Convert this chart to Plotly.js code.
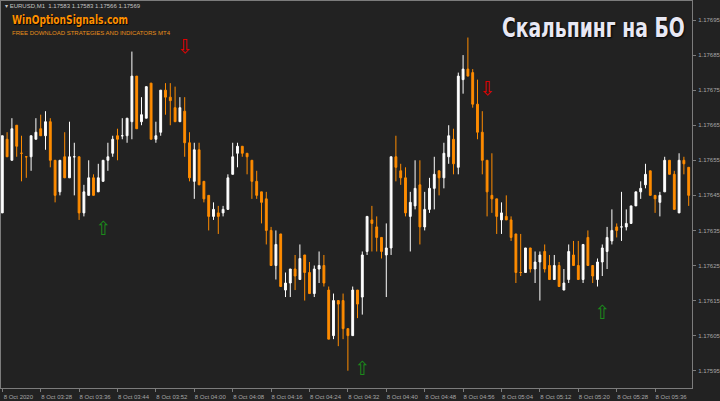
<!DOCTYPE html>
<html>
<head>
<meta charset="utf-8">
<script src="https://cdn.plot.ly/plotly-3.0.1.min.js"></script>
<style>
html,body{margin:0;padding:0;background:#222222;}
#chart{width:720px;height:401px;}
</style>
</head>
<body>
<div id="chart"></div>
<script>
// EURUSD M1, 8 Oct 2020, bars from 03:20 (one per minute)
const barIndex = [];
for (let i = 0; i < 144; i++) barIndex.push(i);

const open = [
1.17640,1.17661,1.17655,1.17665,1.17657,1.17656,1.17656,1.17661,1.17664,1.17662,
1.17666,1.17655,1.17646,1.17656,1.17650,1.17656,1.17656,1.17640,1.17645,1.17650,
1.17646,1.17649,1.17655,1.17657,1.17662,1.17662,1.17662,1.17666,1.17679,1.17666,
1.17667,1.17677,1.17661,1.17663,1.17675,1.17673,1.17670,1.17666,1.17669,1.17660,
1.17649,1.17658,1.17649,1.17645,1.17639,1.17640,1.17640,1.17641,1.17651,1.17657,
1.17659,1.17657,1.17655,1.17649,1.17646,1.17644,1.17635,1.17625,1.17634,1.17618,
1.17620,1.17624,1.17621,1.17628,1.17623,1.17617,1.17624,1.17625,1.17618,1.17605,
1.17615,1.17615,1.17607,1.17605,1.17618,1.17616,1.17629,1.17638,1.17636,1.17633,
1.17628,1.17630,1.17656,1.17652,1.17650,1.17639,1.17642,1.17648,1.17636,1.17641,
1.17647,1.17652,1.17650,1.17656,1.17661,1.17653,1.17678,1.17681,1.17680,1.17671,
1.17663,1.17655,1.17645,1.17644,1.17638,1.17639,1.17638,1.17634,1.17623,1.17623,
1.17630,1.17624,1.17626,1.17629,1.17625,1.17621,1.17625,1.17618,1.17621,1.17628,
1.17625,1.17621,1.17633,1.17625,1.17621,1.17626,1.17629,1.17632,1.17636,1.17636,
1.17636,1.17637,1.17642,1.17646,1.17648,1.17652,1.17645,1.17643,1.17646,1.17655,
1.17651,1.17640,1.17655,1.17653];
const high = [
1.17662,1.17663,1.17667,1.17665,1.17662,1.17656,1.17662,1.17667,1.17668,1.17669,
1.17667,1.17655,1.17655,1.17663,1.17666,1.17660,1.17656,1.17648,1.17655,1.17651,
1.17654,1.17655,1.17660,1.17662,1.17664,1.17667,1.17667,1.17686,1.17679,1.17673,
1.17676,1.17677,1.17666,1.17675,1.17677,1.17677,1.17676,1.17673,1.17673,1.17663,
1.17660,1.17660,1.17649,1.17645,1.17643,1.17642,1.17642,1.17651,1.17660,1.17660,
1.17659,1.17657,1.17655,1.17652,1.17646,1.17646,1.17636,1.17635,1.17634,1.17623,
1.17624,1.17628,1.17631,1.17628,1.17626,1.17625,1.17629,1.17628,1.17619,1.17617,
1.17615,1.17617,1.17607,1.17619,1.17618,1.17629,1.17639,1.17642,1.17639,1.17633,
1.17637,1.17656,1.17662,1.17654,1.17653,1.17646,1.17655,1.17655,1.17646,1.17650,
1.17656,1.17652,1.17660,1.17665,1.17664,1.17680,1.17685,1.17690,1.17681,1.17678,
1.17669,1.17655,1.17657,1.17644,1.17643,1.17645,1.17639,1.17634,1.17634,1.17630,
1.17630,1.17629,1.17629,1.17631,1.17628,1.17628,1.17626,1.17624,1.17631,1.17632,
1.17632,1.17631,1.17635,1.17625,1.17627,1.17631,1.17636,1.17641,1.17637,1.17646,
1.17641,1.17642,1.17646,1.17649,1.17654,1.17652,1.17645,1.17646,1.17656,1.17655,
1.17652,1.17657,1.17656,1.17653];
const low = [
1.17640,1.17656,1.17655,1.17656,1.17649,1.17650,1.17652,1.17661,1.17662,1.17658,
1.17653,1.17643,1.17645,1.17650,1.17650,1.17645,1.17638,1.17639,1.17645,1.17645,
1.17646,1.17649,1.17652,1.17656,1.17655,1.17661,1.17660,1.17661,1.17664,1.17665,
1.17667,1.17661,1.17660,1.17662,1.17668,1.17665,1.17666,1.17666,1.17656,1.17649,
1.17644,1.17648,1.17643,1.17635,1.17638,1.17634,1.17639,1.17641,1.17651,1.17653,
1.17656,1.17651,1.17644,1.17644,1.17637,1.17631,1.17625,1.17621,1.17619,1.17616,
1.17616,1.17618,1.17621,1.17615,1.17617,1.17616,1.17620,1.17619,1.17604,1.17604,
1.17602,1.17604,1.17595,1.17605,1.17610,1.17611,1.17628,1.17629,1.17629,1.17627,
1.17616,1.17628,1.17649,1.17648,1.17639,1.17629,1.17641,1.17631,1.17635,1.17640,
1.17641,1.17645,1.17647,1.17654,1.17651,1.17651,1.17674,1.17679,1.17670,1.17661,
1.17651,1.17639,1.17640,1.17634,1.17634,1.17638,1.17632,1.17620,1.17622,1.17623,
1.17623,1.17620,1.17615,1.17623,1.17621,1.17621,1.17619,1.17618,1.17620,1.17625,
1.17621,1.17620,1.17625,1.17620,1.17619,1.17622,1.17624,1.17631,1.17633,1.17632,
1.17635,1.17637,1.17642,1.17644,1.17647,1.17645,1.17640,1.17639,1.17646,1.17651,
1.17641,1.17640,1.17651,1.17642];
const close = [
1.17662,1.17656,1.17664,1.17659,1.17657,1.17656,1.17662,1.17663,1.17662,1.17666,
1.17655,1.17645,1.17655,1.17650,1.17656,1.17656,1.17640,1.17646,1.17650,1.17645,
1.17650,1.17655,1.17656,1.17661,1.17661,1.17662,1.17667,1.17679,1.17664,1.17668,
1.17676,1.17661,1.17662,1.17675,1.17673,1.17672,1.17666,1.17670,1.17660,1.17650,
1.17658,1.17648,1.17644,1.17639,1.17641,1.17639,1.17641,1.17650,1.17656,1.17659,
1.17657,1.17656,1.17649,1.17645,1.17643,1.17635,1.17625,1.17631,1.17619,1.17620,
1.17624,1.17622,1.17627,1.17623,1.17617,1.17624,1.17625,1.17620,1.17604,1.17615,
1.17614,1.17607,1.17605,1.17618,1.17614,1.17628,1.17639,1.17637,1.17633,1.17629,
1.17630,1.17656,1.17653,1.17650,1.17640,1.17643,1.17647,1.17636,1.17641,1.17647,
1.17651,1.17650,1.17657,1.17662,1.17654,1.17679,1.17681,1.17679,1.17671,1.17663,
1.17655,1.17646,1.17644,1.17639,1.17640,1.17638,1.17633,1.17623,1.17623,1.17630,
1.17624,1.17626,1.17628,1.17624,1.17621,1.17625,1.17619,1.17620,1.17629,1.17625,
1.17621,1.17631,1.17625,1.17622,1.17626,1.17630,1.17633,1.17635,1.17635,1.17636,
1.17637,1.17642,1.17646,1.17647,1.17651,1.17645,1.17644,1.17645,1.17655,1.17651,
1.17641,1.17655,1.17654,1.17645];

// Signal arrows (bar index, price)
const sellBars = [38, 101];
const sellPrices = [1.17687, 1.17675];
const buyBars = [21, 75, 125];
const buyPrices = [1.17635, 1.17595, 1.17611];

// Axis ticks
const timeTickBars = [0,8,16,24,32,40,48,56,64,72,80,88,96,104,112,120,128,136];
const timeTickLabels = ['8 Oct 2020','8 Oct 03:28','8 Oct 03:36','8 Oct 03:44','8 Oct 03:52',
  '8 Oct 04:00','8 Oct 04:08','8 Oct 04:16','8 Oct 04:24','8 Oct 04:32','8 Oct 04:40',
  '8 Oct 04:48','8 Oct 04:56','8 Oct 05:04','8 Oct 05:12','8 Oct 05:20','8 Oct 05:28','8 Oct 05:36'];
const priceTicks = [1.17595,1.17605,1.17615,1.17625,1.17635,1.17645,1.17655,1.17665,1.17675,1.17685,1.17695];

const orange = '#ff8c00';
const white = '#ffffff';
const axisGray = '#7c7c7c';
const labelGray = '#a6a6a6';

const traces = [
  {
    type: 'candlestick',
    x: barIndex, open: open, high: high, low: low, close: close,
    increasing: {line: {color: white, width: 1}, fillcolor: white},
    decreasing: {line: {color: orange, width: 1}, fillcolor: orange},
    whiskerwidth: 0,
    hoverinfo: 'none',
    showlegend: false
  },
  {
    type: 'scatter', mode: 'text',
    x: sellBars, y: sellPrices,
    text: sellBars.map(() => '⇩'),
    textfont: {family: 'DejaVu Sans', size: 19, color: '#e00000'},
    hoverinfo: 'none', showlegend: false
  },
  {
    type: 'scatter', mode: 'text',
    x: buyBars, y: buyPrices,
    text: buyBars.map(() => '⇧'),
    textfont: {family: 'DejaVu Sans', size: 19, color: '#1b8a1b'},
    hoverinfo: 'none', showlegend: false
  }
];

const W = 720, H = 401;
const m = {l: 1, r: 28, t: 1, b: 13};
const pw = W - m.l - m.r, ph = H - m.t - m.b;
function px(x){ return (x - m.l) / pw; }
function py(y){ return 1 - (y - m.t) / ph; }

const layout = {
  width: W, height: H,
  margin: m,
  paper_bgcolor: '#222222',
  plot_bgcolor: '#222222',
  showlegend: false,
  hovermode: false,
  dragmode: false,
  boxgap: 0.45,
  font: {family: 'Liberation Sans, Arial, sans-serif', color: labelGray, size: 6},
  xaxis: {
    type: 'linear',
    range: [-0.27, 143.69],
    rangeslider: {visible: false},
    showgrid: false, zeroline: false,
    showline: true, mirror: true, linecolor: axisGray, linewidth: 1,
    ticks: 'outside', ticklen: 3, tickcolor: axisGray, tickwidth: 1,
    tickvals: timeTickBars, ticktext: timeTickLabels,
    tickfont: {size: 6, color: labelGray},
    ticklabelshift: 16,
    ticklabelstandoff: 0,
    fixedrange: true
  },
  yaxis: {
    side: 'right',
    range: [1.1759007, 1.1770042],
    showgrid: false, zeroline: false,
    showline: true, mirror: true, linecolor: axisGray, linewidth: 1,
    ticks: 'outside', ticklen: 3, tickcolor: axisGray, tickwidth: 1,
    tickvals: priceTicks, tickformat: '.5f',
    tickfont: {size: 6, color: labelGray},
    ticklabelstandoff: 1,
    fixedrange: true
  },
  annotations: [
    {xref: 'paper', yref: 'paper', x: px(3), y: py(6.5), xanchor: 'left', yanchor: 'middle',
     text: '▾ EURUSD,M1  1.17583 1.17583 1.17566 1.17569', showarrow: false,
     font: {family: 'Liberation Sans, Arial, sans-serif', size: 6, color: '#c4c4c4'}},
    {xref: 'paper', yref: 'paper', x: px(10), y: py(19.5), xanchor: 'left', yanchor: 'middle',
     text: '<b>WinOptionSignals.com</b>', showarrow: false,
     font: {family: 'DejaVu Sans, Liberation Sans, sans-serif', size: 13, color: '#ff9000', shadow: '1px 1px 1px #000000'}},
    {xref: 'paper', yref: 'paper', x: px(10), y: py(32.5), xanchor: 'left', yanchor: 'middle',
     text: 'FREE DOWNLOAD STRATEGIES AND INDICATORS MT4', showarrow: false,
     font: {family: 'Liberation Sans, Arial, sans-serif', size: 6, color: '#e8901a'}},
    {xref: 'paper', yref: 'paper', x: px(687), y: py(27), xanchor: 'right', yanchor: 'middle',
     text: '<b>Скальпинг на БО</b>', showarrow: false,
     font: {family: 'DejaVu Sans, Liberation Sans, sans-serif', size: 27, color: '#e8e8f4', shadow: '1px 1px 2px #000000'}}
  ]
};

// Condense the two banner texts horizontally (the original uses a narrow display face)
function condense(match, targetWidth, origin) {
  document.querySelectorAll('.annotation-text-g text').forEach(t => {
    if (t.textContent.indexOf(match) === -1) return;
    const w = t.getBBox().width;
    if (!w) return;
    const s = targetWidth / w;
    t.style.transformBox = 'fill-box';
    t.style.transformOrigin = origin + ' center';
    t.style.transform = 'scaleX(' + s.toFixed(3) + ')';
  });
}

Plotly.newPlot('chart', traces, layout, {staticPlot: true, displayModeBar: false}).then(() => {
  condense('Скальпинг', 183, 'right');
  condense('WinOptionSignals', 116, 'left');
});
</script>
</body>
</html>
